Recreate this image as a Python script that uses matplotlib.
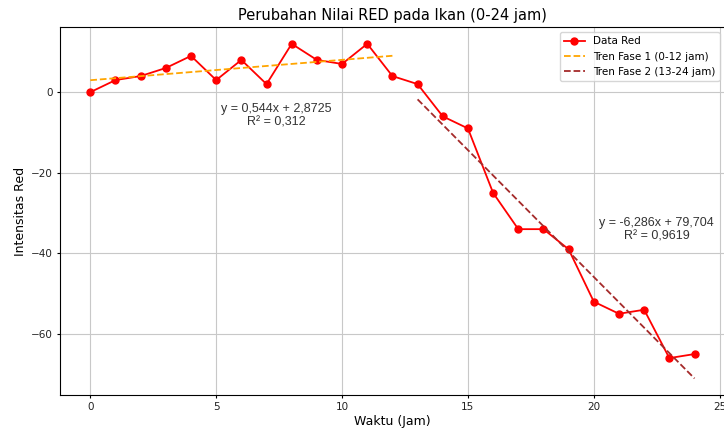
import numpy as np
import matplotlib
matplotlib.use("Agg")
import matplotlib.pyplot as plt

# Data
hours = list(range(0, 25))
red_values = [0, 3, 4, 6, 9, 3, 8, 2, 12, 8, 7, 12, 4,
              2, -6, -9, -25, -34, -34, -39, -52, -55, -54, -66, -65]
phase1_end = 12
phase2_start = 13
eq1_text = "y = 0,544x + 2,8725\nR² = 0,312"
eq2_text = "y = -6,286x + 79,704\nR² = 0,9619"

x = np.array(hours)
y = np.array(red_values)

fig = plt.figure(figsize=(7.24, 4.30), dpi=100)
ax = fig.add_axes([0.083, 0.081, 0.918, 0.856])

ax.plot(x, y, color='red', marker='o', markersize=5, linewidth=1.3, label='Data Red')

m1 = x <= phase1_end
c1 = np.polyfit(x[m1], y[m1], 1)
ax.plot(x[m1], np.polyval(c1, x[m1]), '--', color='orange', linewidth=1.3,
        label='Tren Fase 1 (0-12 jam)')

m2 = x >= phase2_start
c2 = np.polyfit(x[m2], y[m2], 1)
ax.plot(x[m2], np.polyval(c2, x[m2]), '--', color='brown', linewidth=1.3,
        label='Tren Fase 2 (13-24 jam)')

ax.text(7.4, -5.8, eq1_text, ha='center', va='center', fontsize=9,
        family='Liberation Sans', color='#333333', linespacing=1.2)
ax.text(22.5, -34.1, eq2_text, ha='center', va='center', fontsize=9,
        family='Liberation Sans', color='#333333', linespacing=1.2)

ax.set_title('Perubahan Nilai RED pada Ikan (0-24 jam)', fontsize=10.5, pad=5)
ax.set_xlabel('Waktu (Jam)', fontsize=9, labelpad=2)
ax.set_ylabel('Intensitas Red', fontsize=9, labelpad=3)
ax.tick_params(labelsize=7.5, length=2.5, pad=2.5, labelcolor='#222222')
ax.grid(True, color='#c8c8c8', linewidth=0.8)
ax.legend(loc='upper right', fontsize=7.5)

fig.savefig('out.png', dpi=100)
